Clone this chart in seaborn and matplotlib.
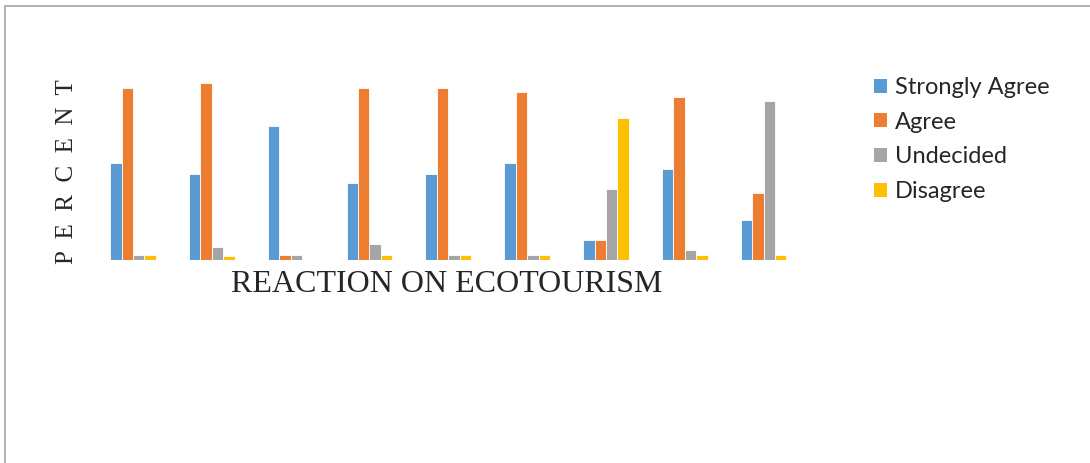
import pandas as pd
import matplotlib
matplotlib.use('Agg')
import matplotlib.pyplot as plt
from matplotlib.patches import Patch, Rectangle
import seaborn as sns

# Reaction statements (the chart shows no tick labels)
statements = ['1', '2', '3', '4', '5', '6', '7', '8', '9']
responses = ['Strongly Agree', 'Agree', 'Undecided', 'Disagree']

# Percent values
strongly_agree = [36, 32, 50, 28.5, 32, 36, 7.5, 34, 15]
agree = [64, 66, 2, 64, 64, 62.5, 7.5, 60.5, 25]
undecided = [2, 5, 2, 5.8, 2, 2, 26.5, 3.8, 59]
disagree = [2, 1.6, 0, 2, 2, 2, 53, 2, 2]

colors = ['#5B9BD5', '#ED7D31', '#A5A5A5', '#FFC000']

rows = []
for i, s in enumerate(statements):
    for resp, vals in zip(responses, [strongly_agree, agree, undecided, disagree]):
        rows.append({'statement': s, 'response': resp, 'percent': vals[i]})
df = pd.DataFrame(rows)

sns.set_style('white')
fig = plt.figure(figsize=(10.9, 4.63), dpi=100)
ax = fig.add_axes([0.0859, 0.4384, 0.6508, 0.4104])

sns.barplot(data=df, x='statement', y='percent', hue='response',
            hue_order=responses, palette=colors, saturation=1, width=0.58,
            gap=0, edgecolor='white', linewidth=0.6, legend=False, ax=ax)

ax.set_ylim(0, 70.7)
ax.set_xlim(-0.5, 8.5)
ax.set_xticks([])
ax.set_yticks([])
ax.set_xlabel('')
ax.set_ylabel('')
sns.despine(ax=ax, left=True, bottom=True)

# axis titles
fig.text(447 / 1090, 1 - 284 / 463, 'REACTION ON ECOTOURISM', fontsize=23,
         family='Liberation Serif', ha='center', va='center')
fig.text(67 / 1090, 1 - 172 / 463, 'P  E  R  C  E  N  T', fontsize=18,
         family='Liberation Serif', rotation=90, ha='center', va='center')

handles = [Patch(facecolor=c, edgecolor='none') for c in colors]
fig.legend(handles, responses, loc='upper left',
           bbox_to_anchor=(874 / 1090, 1 - 77 / 463), frameon=False,
           prop={'family': 'Lato', 'size': 17}, handlelength=0.55,
           handleheight=0.55, handletextpad=0.35, labelspacing=0.58,
           borderpad=0, borderaxespad=0)

# chart area border
fig.patches.append(Rectangle((5 / 1090, -0.1), 1.2, 1 - 6 / 463 + 0.1,
                             transform=fig.transFigure, fill=False,
                             edgecolor='#ABABAB', linewidth=1.3))

fig.savefig('out.png', dpi=100)
